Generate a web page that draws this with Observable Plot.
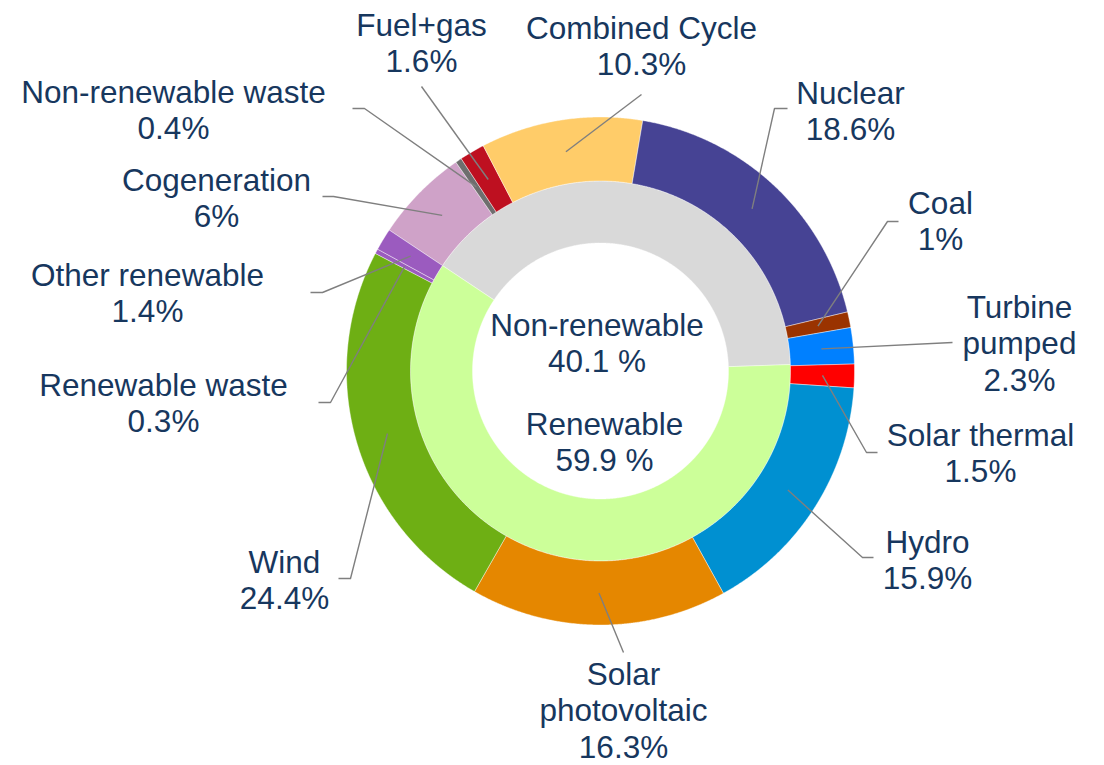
<!DOCTYPE html>
<html>
<head>
<meta charset="utf-8">
<script src="https://cdn.jsdelivr.net/npm/d3@7"></script>
<script src="https://cdn.jsdelivr.net/npm/@observablehq/plot@0.6"></script>
<style>
  html, body { margin: 0; padding: 0; background: #ffffff; }
  #chart svg { display: block; }
</style>
</head>
<body>
<div id="chart"></div>
<script>
// ---------- DATA ----------
const outerNames = ["Cogeneration", "Non-renewable waste", "Fuel+gas", "Combined Cycle", "Nuclear", "Coal",
  "Turbine pumped", "Solar thermal", "Hydro", "Solar photovoltaic", "Wind", "Renewable waste", "Other renewable"];
const outerLabels = ["Cogeneration", "Non-renewable waste", "Fuel+gas", "Combined Cycle", "Nuclear", "Coal",
  "Turbine\npumped", "Solar thermal", "Hydro", "Solar\nphotovoltaic", "Wind", "Renewable waste", "Other renewable"];
const outerValues = [6, 0.4, 1.6, 10.3, 18.6, 1, 2.3, 1.5, 15.9, 16.3, 24.4, 0.3, 1.4];

const innerNames = ["Non-renewable", "Renewable"];
const innerValues = [40.1, 59.9];

// ---------- STYLES ----------
const outerColors = ["#CFA2C8", "#6E6E6E", "#BE1020", "#FFCC69", "#464394", "#9A3300",
  "#0080FF", "#FF0000", "#0090D1", "#E58700", "#6EAF14", "#9B5BBF", "#9B5BBF"];
const innerColors = ["#D9D9D9", "#CCFF99"];
const textColor = "#17375E";
const leaderColor = "#7F7F7F";
const FS = 31.5, LH = 1.165;

// ---------- LAYOUT ----------
const W = 1104, H = 765, CX = 600, CY = 370.5;
const R_HOLE = 128, R_MID = 190, R_OUT = 254, R_ANCHOR = 222;
const START = -56.3 * Math.PI / 180;

// label layout (absolute page px): text centre x, first baseline y, leader start points
const outerLabelLayout = [
  {tx: 216, ty: 190, lead: [[322, 196], [333, 196]]},
  {tx: 173, ty: 102, lead: [[352, 108], [364, 108]]},
  {tx: 421, ty: 35,  lead: [[421, 86]]},
  {tx: 641, ty: 38,  lead: [[641, 94]]},
  {tx: 850, ty: 103, lead: [[787, 108], [774, 108]]},
  {tx: 940, ty: 213, lead: [[898, 221], [887, 221]]},
  {tx: 1019, ty: 317, lead: [[952, 342]]},
  {tx: 980, ty: 445, lead: [[877, 452], [866, 452]]},
  {tx: 927, ty: 552, lead: [[873, 557], [862, 557]]},
  {tx: 623, ty: 684, lead: [[623, 652]]},
  {tx: 284, ty: 572, lead: [[338, 578], [350, 578]]},
  {tx: 163, ty: 395, lead: [[318, 402], [330, 402]]},
  {tx: 147, ty: 285, lead: [[310, 292], [322, 292]]}
];
const innerLabelLayout = [
  {tx: 596.5, ty: 335},
  {tx: 604, ty: 434}
];

// ---------- GEOMETRY (through d3.pie) ----------
function ring(names, values, r0, r1) {
  const arcs = d3.pie().sort(null).value(d => d).startAngle(START).endAngle(START + 2 * Math.PI)(values);
  const pts = [];
  arcs.forEach((a, i) => {
    const span = a.endAngle - a.startAngle;
    const n = Math.max(2, Math.ceil(span / 0.004));
    const poly = [];
    for (let k = 0; k <= n; k++) {
      const t = a.startAngle + span * k / n;
      poly.push([r1 * Math.sin(t), -r1 * Math.cos(t)]);
    }
    for (let k = n; k >= 0; k--) {
      const t = a.startAngle + span * k / n;
      poly.push([r0 * Math.sin(t), -r0 * Math.cos(t)]);
    }
    poly.push(poly[0]);
    poly.forEach(([x, y]) => pts.push({name: names[i], x, y}));
  });
  return {arcs, pts};
}

const outer = ring(outerNames, outerValues, R_MID, R_OUT);
const inner = ring(innerNames, innerValues, R_HOLE, R_MID);

const fmt = v => String(v) + "%";

const labelRows = outerNames.map((name, i) => ({
  name,
  text: outerLabels[i] + "\n" + fmt(outerValues[i]),
  x: outerLabelLayout[i].tx - CX,
  y: outerLabelLayout[i].ty - CY - 0.71 * LH * FS
})).concat(innerNames.map((name, i) => ({
  name,
  text: name + "\n" + String(innerValues[i]) + " %",
  x: innerLabelLayout[i].tx - CX,
  y: innerLabelLayout[i].ty - CY - 0.71 * LH * FS
})));

const leaderPts = [];
outer.arcs.forEach((a, i) => {
  const mid = (a.startAngle + a.endAngle) / 2;
  outerLabelLayout[i].lead.forEach(([px, py]) => leaderPts.push({name: outerNames[i], x: px - CX, y: py - CY}));
  leaderPts.push({name: outerNames[i], x: R_ANCHOR * Math.sin(mid), y: -R_ANCHOR * Math.cos(mid)});
});

const chart = Plot.plot({
  width: W,
  height: H,
  margin: 0,
  x: {domain: [-CX, W - CX], range: [0, W], axis: null},
  y: {domain: [-CY, H - CY], range: [0, H], axis: null},
  color: {domain: [...outerNames, ...innerNames], range: [...outerColors, ...innerColors]},
  style: {fontFamily: "'Liberation Sans', Arial, sans-serif", background: "#ffffff"},
  marks: [
    Plot.line(inner.pts, {x: "x", y: "y", z: "name", fill: "name", stroke: "white", strokeWidth: 0.6, strokeOpacity: 0.7, curve: "linear"}),
    Plot.line(outer.pts, {x: "x", y: "y", z: "name", fill: "name", stroke: "white", strokeWidth: 0.6, strokeOpacity: 0.7, curve: "linear"}),
    Plot.line(leaderPts, {x: "x", y: "y", z: "name", stroke: leaderColor, strokeWidth: 1.4, strokeLinecap: "butt", curve: "linear"}),
    Plot.text(labelRows, {x: "x", y: "y", text: "text", textAnchor: "middle", lineAnchor: "top",
      lineHeight: LH, fontSize: FS, fill: textColor})
  ]
});

document.getElementById("chart").appendChild(chart);
</script>
</body>
</html>
